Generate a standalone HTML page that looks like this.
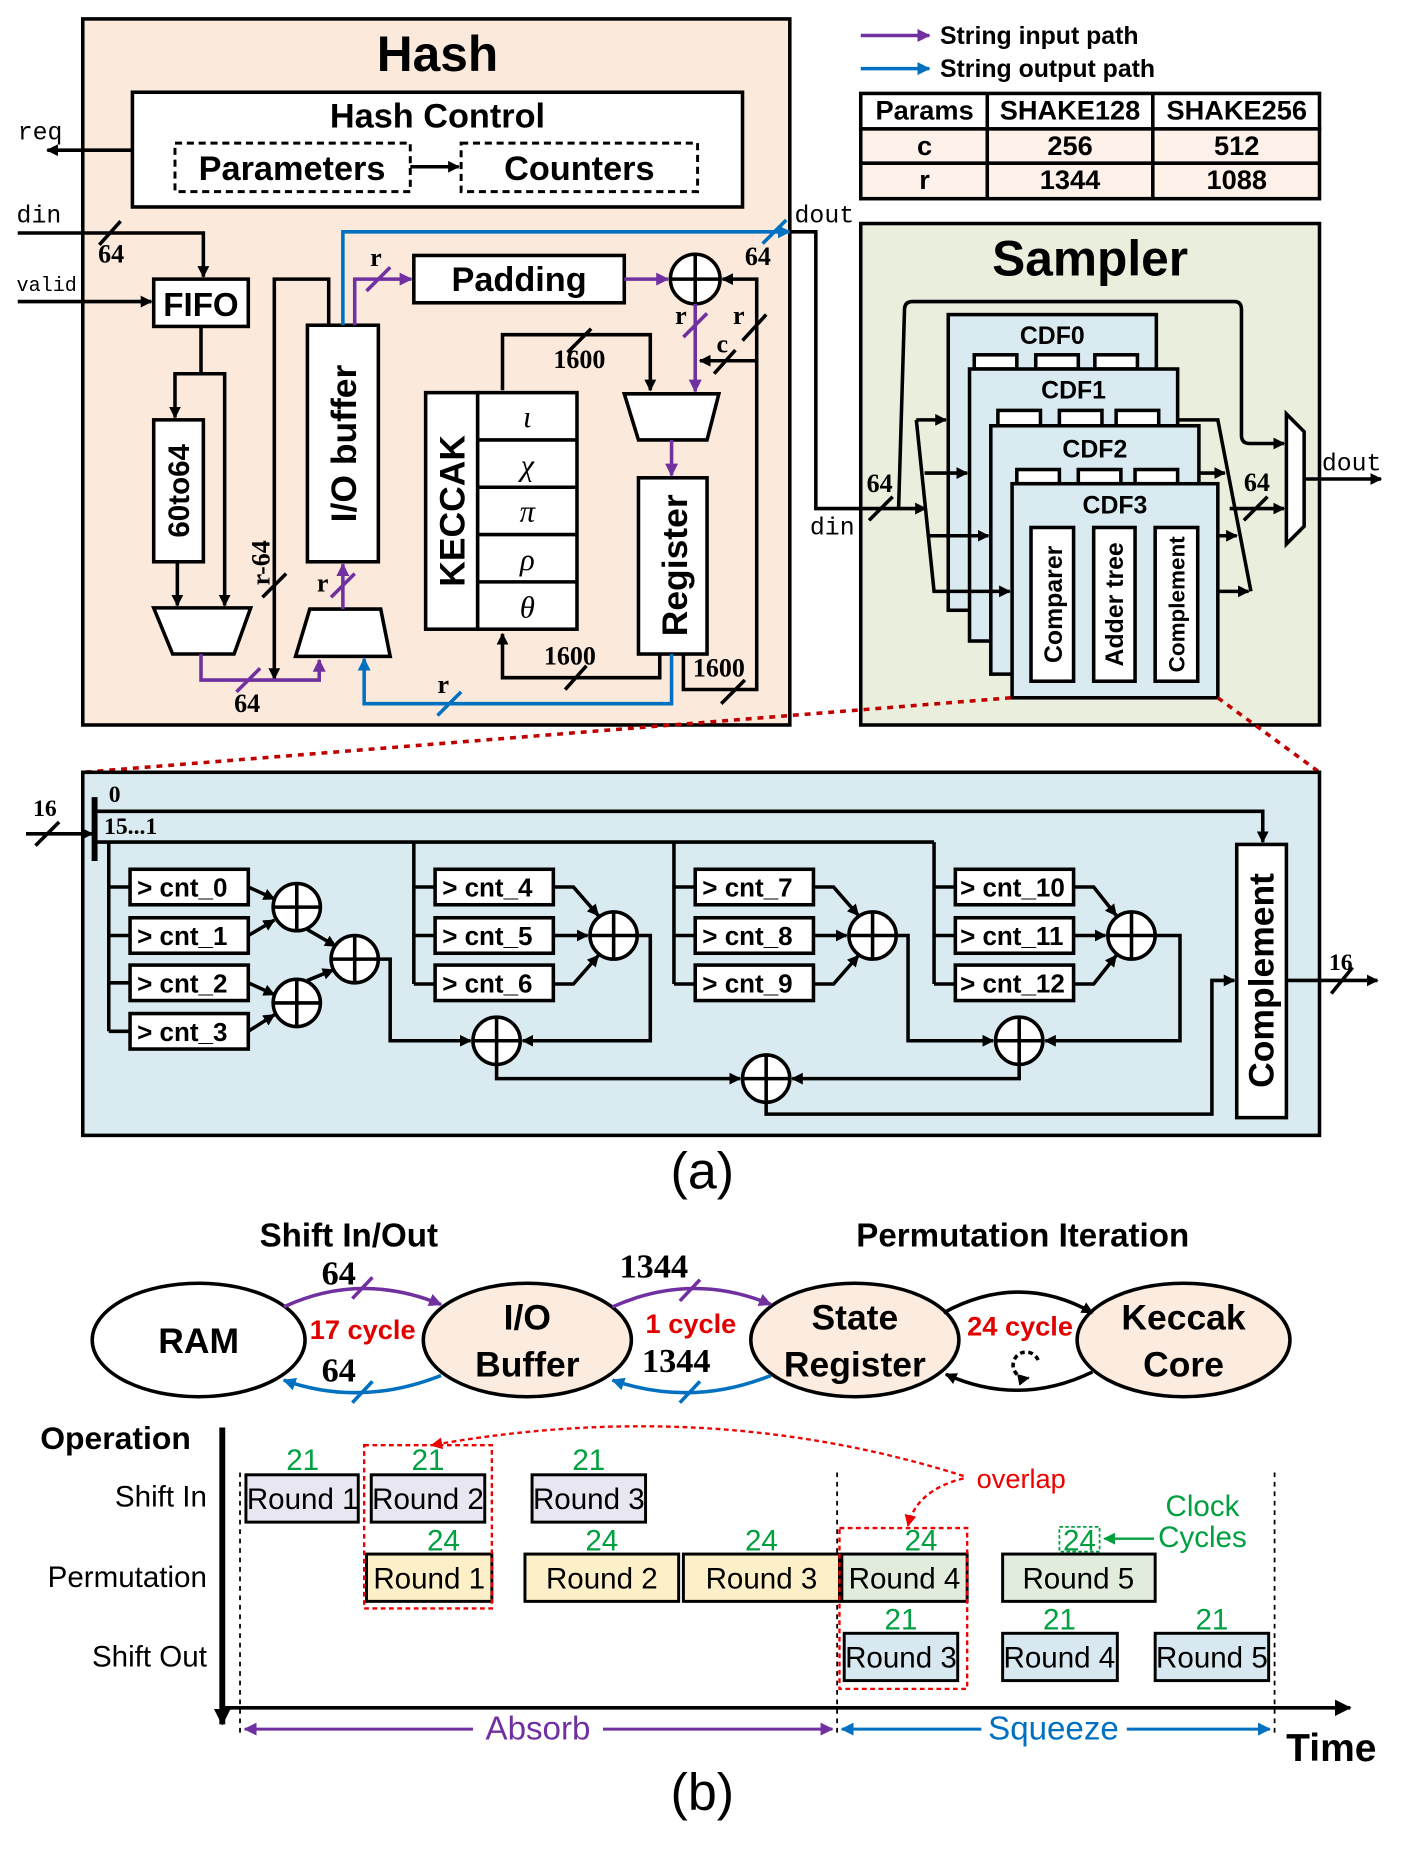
<!DOCTYPE html>
<html><head><meta charset="utf-8"><style>html,body{margin:0;padding:0;background:#fff}svg{display:block}</style></head><body>
<svg width="1407" height="1858" viewBox="0 0 1190 1571" preserveAspectRatio="none" xmlns="http://www.w3.org/2000/svg" font-family="Liberation Sans, sans-serif">
<defs>
<marker id="ak" markerWidth="10" markerHeight="10" refX="9" refY="5" orient="auto" markerUnits="userSpaceOnUse"><path d="M0,0 L10,5 L0,10z" fill="#000"/></marker>
<marker id="ap" markerWidth="11" markerHeight="11" refX="10" refY="5.5" orient="auto" markerUnits="userSpaceOnUse"><path d="M0,0 L11,5.5 L0,11z" fill="#7030a0"/></marker>
<marker id="ab" markerWidth="11" markerHeight="11" refX="10" refY="5.5" orient="auto" markerUnits="userSpaceOnUse"><path d="M0,0 L11,5.5 L0,11z" fill="#0070c0"/></marker>
<marker id="ar" markerWidth="10" markerHeight="10" refX="9" refY="5" orient="auto" markerUnits="userSpaceOnUse"><path d="M0,0 L10,5 L0,10z" fill="#e00"/></marker>
<marker id="ag" markerWidth="10" markerHeight="10" refX="9" refY="5" orient="auto" markerUnits="userSpaceOnUse"><path d="M0,0 L10,5 L0,10z" fill="#00a040"/></marker>
<marker id="akb" markerWidth="14" markerHeight="14" refX="13" refY="7" orient="auto" markerUnits="userSpaceOnUse"><path d="M0,0 L14,7 L0,14z" fill="#000"/></marker>
</defs>
<g stroke="#000" stroke-width="3" fill="none">
<rect x="70" y="16" width="598" height="597" fill="#fbe9dc"/>
<rect x="112" y="78" width="516" height="97" fill="#fff"/>
<rect x="148" y="121" width="199" height="41" stroke-dasharray="6,4" stroke-width="2.5"/>
<rect x="390" y="121" width="200" height="41" stroke-dasharray="6,4" stroke-width="2.5"/>
<line x1="347" y1="141" x2="388" y2="141" marker-end="url(#ak)"/>
<line x1="112" y1="127" x2="40" y2="127" marker-end="url(#ak)"/>
<polyline points="15,197 172,197 172,234" marker-end="url(#ak)"/>
<line x1="84" y1="207" x2="102" y2="187"/>
<line x1="15" y1="255" x2="128" y2="255" marker-end="url(#ak)"/>
<rect x="130" y="236" width="80" height="40" fill="#fff"/>
<polyline points="170,276 170,316 148,316 148,353" marker-end="url(#ak)"/>
<polyline points="170,316 190,316 190,512" marker-end="url(#ak)"/>
<rect x="130" y="355" width="42" height="120" fill="#fff"/>
<line x1="150" y1="475" x2="150" y2="512" marker-end="url(#ak)"/>
<polygon points="130,514 212,514 198,553 146,553" fill="#fff"/>
<polyline points="278,275 278,236 232,236 232,574" marker-end="url(#ak)"/>
<line x1="222" y1="505" x2="242" y2="485"/>
<rect x="260" y="275" width="60" height="200" fill="#fff"/>
<polygon points="262,515 322,515 330,555 250,555" fill="#fff"/>
<rect x="350" y="216" width="178" height="40" fill="#fff"/>
<circle cx="588" cy="236" r="21" fill="#fff"/>
<line x1="567" y1="236" x2="609" y2="236"/><line x1="588" y1="215" x2="588" y2="257"/>
<polyline points="425,330 425,283 550,283 550,330" marker-end="url(#ak)"/>
<line x1="480" y1="298" x2="500" y2="278"/>
<polygon points="528,333 608,333 598,372 540,372" fill="#fff"/>
<rect x="540" y="404" width="58" height="149" fill="#fff"/>
<rect x="360" y="332" width="44" height="200" fill="#fff"/>
<rect x="404" y="332" width="84" height="200" fill="#fff"/>
<line x1="404" y1="372" x2="488" y2="372"/><line x1="404" y1="412" x2="488" y2="412"/><line x1="404" y1="452" x2="488" y2="452"/><line x1="404" y1="492" x2="488" y2="492"/>
<polyline points="558,553 558,573 425,573 425,536" marker-end="url(#ak)"/>
<line x1="478" y1="583" x2="496" y2="563"/>
<polyline points="578,553 578,583 640,583 640,236 611,236" marker-end="url(#ak)"/>
<line x1="610" y1="595" x2="630" y2="575"/>
<line x1="628" y1="288" x2="648" y2="266"/>
<line x1="640" y1="305" x2="592" y2="305" marker-end="url(#ak)"/>
<line x1="604" y1="316" x2="622" y2="296"/>
</g>
<g stroke="#7030a0" stroke-width="3" fill="none">
<polyline points="170,553 170,575 270,575 270,558" marker-end="url(#ap)"/>
<line x1="200" y1="585" x2="220" y2="565"/>
<line x1="290" y1="515" x2="290" y2="477" marker-end="url(#ap)"/>
<line x1="280" y1="505" x2="300" y2="485"/>
<polyline points="300,275 300,236 348,236" marker-end="url(#ap)"/>
<line x1="310" y1="246" x2="330" y2="226"/>
<line x1="528" y1="236" x2="565" y2="236" marker-end="url(#ap)"/>
<line x1="588" y1="257" x2="588" y2="331" marker-end="url(#ap)"/>
<line x1="578" y1="285" x2="598" y2="265"/>
<line x1="568" y1="372" x2="568" y2="402" marker-end="url(#ap)"/>
</g>
<g stroke="#0070c0" stroke-width="3" fill="none">
<polyline points="290,275 290,196 668,196" marker-end="url(#ab)"/>
<line x1="645" y1="206" x2="665" y2="186"/>
<polyline points="568,553 568,595 308,595 308,557" marker-end="url(#ab)"/>
<line x1="370" y1="605" x2="390" y2="585"/>
</g>
<g font-family="Liberation Sans, sans-serif" font-weight="bold">
<text x="370" y="60" font-size="42" text-anchor="middle">Hash</text>
<text x="370" y="108" font-size="29" text-anchor="middle">Hash Control</text>
<text x="247" y="152" font-size="29" text-anchor="middle">Parameters</text>
<text x="490" y="152" font-size="29" text-anchor="middle">Counters</text>
<text x="170" y="267" font-size="28" text-anchor="middle">FIFO</text>
<text x="439" y="246" font-size="29" text-anchor="middle">Padding</text>
<text transform="translate(160,415) rotate(-90)" font-size="25" text-anchor="middle">60to64</text>
<text transform="translate(301,375) rotate(-90)" font-size="30" text-anchor="middle">I/O buffer</text>
<text transform="translate(393,432) rotate(-90)" font-size="30" text-anchor="middle">KECCAK</text>
<text transform="translate(581,478) rotate(-90)" font-size="30" text-anchor="middle">Register</text>
</g>
<g font-family="Liberation Serif, serif" font-size="26" font-style="italic" text-anchor="middle">
<text x="446" y="361">ι</text><text x="446" y="402">χ</text><text x="446" y="441">π</text><text x="446" y="482">ρ</text><text x="446" y="522">θ</text>
</g>
<g font-family="Liberation Serif, serif" font-size="22" font-weight="bold">
<text x="83" y="222">64</text><text x="198" y="602">64</text><text x="630" y="224">64</text>
<text x="468" y="311">1600</text><text x="460" y="562">1600</text><text x="586" y="572">1600</text>
<text x="313" y="225">r</text><text x="268" y="500">r</text><text x="571" y="274">r</text><text x="620" y="274">r</text><text x="606" y="298">c</text><text x="370" y="586">r</text>
<text transform="translate(228,495) rotate(-90)">r-64</text>
</g>
<g font-family="Liberation Mono, monospace" font-size="21">
<text x="15" y="118">req</text><text x="14" y="188">din</text><text x="14" y="246" font-size="17">valid</text>
<text x="672" y="188">dout</text><text x="685" y="452">din</text><text x="1118" y="398">dout</text>
</g>
<line x1="728" y1="30" x2="786" y2="30" stroke="#7030a0" stroke-width="3" marker-end="url(#ap)"/>
<line x1="728" y1="58" x2="786" y2="58" stroke="#0070c0" stroke-width="3" marker-end="url(#ab)"/>
<g font-weight="bold" font-size="21">
<text x="795" y="37">String input path</text><text x="795" y="65">String output path</text>
</g>
<g stroke="#000" stroke-width="3">
<rect x="728" y="79" width="388" height="30" fill="#fff"/>
<rect x="728" y="109" width="388" height="59" fill="#fdf1ea"/>
<line x1="728" y1="138" x2="1116" y2="138"/>
<line x1="835" y1="79" x2="835" y2="168"/><line x1="975" y1="79" x2="975" y2="168"/>
</g>
<g font-weight="bold" font-size="23" text-anchor="middle">
<text x="782" y="101">Params</text><text x="905" y="101">SHAKE128</text><text x="1046" y="101">SHAKE256</text>
<text x="782" y="131">c</text><text x="905" y="131">256</text><text x="1046" y="131">512</text>
<text x="782" y="160">r</text><text x="905" y="160">1344</text><text x="1046" y="160">1088</text>
</g>
<g stroke="#000" stroke-width="3" fill="none">
<rect x="728" y="189" width="388" height="424" fill="#e9efdc"/>
<polyline points="668,196 690,196 690,430 783,430" marker-end="url(#ak)"/>
<line x1="735" y1="440" x2="755" y2="420"/>
<path d="M760,430 L765,262 Q765,255 772,255 L1044,255 Q1050,255 1050,262 L1050,368 Q1050,375 1057,375 L1086,375" marker-end="url(#ak)"/>
<rect x="802" y="266" width="176" height="250" fill="#d9ebf1"/>
<rect x="824" y="300" width="36" height="12" fill="#fff"/><rect x="876" y="300" width="36" height="12" fill="#fff"/><rect x="926" y="300" width="36" height="12" fill="#fff"/>
<rect x="820" y="312" width="176" height="230" fill="#d9ebf1"/>
<rect x="844" y="347" width="36" height="13" fill="#fff"/><rect x="896" y="347" width="36" height="13" fill="#fff"/><rect x="944" y="347" width="36" height="13" fill="#fff"/>
<rect x="838" y="360" width="176" height="210" fill="#d9ebf1"/>
<rect x="860" y="397" width="36" height="12" fill="#fff"/><rect x="912" y="397" width="36" height="12" fill="#fff"/><rect x="960" y="397" width="36" height="12" fill="#fff"/>
<rect x="856" y="409" width="174" height="181" fill="#d9ebf1"/>
<rect x="872" y="446" width="36" height="130" fill="#fff"/><rect x="925" y="446" width="35" height="130" fill="#fff"/><rect x="977" y="446" width="36" height="130" fill="#fff"/>
<polyline points="775,355 790,500 854,500" marker-end="url(#ak)"/>
<line x1="775" y1="355" x2="800" y2="355" marker-end="url(#ak)"/>
<line x1="782" y1="400" x2="818" y2="400" marker-end="url(#ak)"/>
<line x1="786" y1="453" x2="836" y2="453" marker-end="url(#ak)"/>
<polyline points="996,355 1030,355 1058,500" />
<line x1="1014" y1="400" x2="1036" y2="400" marker-end="url(#ak)"/>
<line x1="1030" y1="453" x2="1046" y2="453" marker-end="url(#ak)"/>
<line x1="1030" y1="500" x2="1056" y2="500" marker-end="url(#ak)"/>
<line x1="1040" y1="430" x2="1086" y2="430" marker-end="url(#ak)"/>
<line x1="1052" y1="440" x2="1072" y2="420"/>
<polygon points="1088,350 1103,365 1103,445 1088,460" fill="#fff"/>
<line x1="1103" y1="405" x2="1168" y2="405" marker-end="url(#ak)"/>
</g>
<g font-weight="bold">
<text x="922" y="233" font-size="42" text-anchor="middle">Sampler</text>
<text x="890" y="291" font-size="21" text-anchor="middle">CDF0</text>
<text x="908" y="337" font-size="21" text-anchor="middle">CDF1</text>
<text x="926" y="387" font-size="21" text-anchor="middle">CDF2</text>
<text x="943" y="434" font-size="21" text-anchor="middle">CDF3</text>
<g font-size="21" text-anchor="middle">
<text transform="translate(898,511) rotate(-90)">Comparer</text>
<text transform="translate(950,511) rotate(-90)">Adder tree</text>
<text transform="translate(1002,511) rotate(-90)" font-size="19">Complement</text>
</g>
</g>
<g font-family="Liberation Serif, serif" font-size="22" font-weight="bold"><text x="733" y="416">64</text><text x="1052" y="415">64</text></g>
<g stroke="#c00000" stroke-width="3" stroke-dasharray="5,5"><line x1="855" y1="590" x2="70" y2="653"/><line x1="1030" y1="590" x2="1116" y2="653"/></g>
<g stroke="#000" stroke-width="3" fill="none">
<rect x="70" y="653" width="1046" height="307" fill="#d9ebf1"/>
<line x1="22" y1="705" x2="78" y2="705" marker-end="url(#ak)"/>
<line x1="30" y1="715" x2="50" y2="695"/>
<line x1="80" y1="674" x2="80" y2="728" stroke-width="5"/>
<polyline points="80,686 1068,686 1068,712" marker-end="url(#ak)"/>
<polyline points="80,712 790,712"/>
<line x1="92" y1="712" x2="92" y2="872"/>
<line x1="350" y1="712" x2="350" y2="832"/>
<line x1="570" y1="712" x2="570" y2="832"/>
<line x1="790" y1="712" x2="790" y2="832"/>
<line x1="92" y1="750" x2="110" y2="750"/><line x1="92" y1="791" x2="110" y2="791"/><line x1="92" y1="831" x2="110" y2="831"/><line x1="92" y1="872" x2="110" y2="872"/>
<line x1="350" y1="750" x2="368" y2="750"/><line x1="350" y1="791" x2="368" y2="791"/><line x1="350" y1="832" x2="368" y2="832"/>
<line x1="570" y1="750" x2="588" y2="750"/><line x1="570" y1="791" x2="588" y2="791"/><line x1="570" y1="832" x2="588" y2="832"/>
<line x1="790" y1="750" x2="808" y2="750"/><line x1="790" y1="791" x2="808" y2="791"/><line x1="790" y1="832" x2="808" y2="832"/>
<rect x="110" y="735" width="100" height="30" fill="#fff"/><rect x="110" y="776" width="100" height="30" fill="#fff"/><rect x="110" y="816" width="100" height="30" fill="#fff"/><rect x="110" y="857" width="100" height="30" fill="#fff"/>
<rect x="368" y="735" width="100" height="30" fill="#fff"/><rect x="368" y="776" width="100" height="30" fill="#fff"/><rect x="368" y="816" width="100" height="30" fill="#fff"/>
<rect x="588" y="735" width="100" height="30" fill="#fff"/><rect x="588" y="776" width="100" height="30" fill="#fff"/><rect x="588" y="816" width="100" height="30" fill="#fff"/>
<rect x="808" y="735" width="100" height="30" fill="#fff"/><rect x="808" y="776" width="100" height="30" fill="#fff"/><rect x="808" y="816" width="100" height="30" fill="#fff"/>
<line x1="210" y1="750" x2="232" y2="760" marker-end="url(#ak)"/><line x1="210" y1="791" x2="232" y2="778" marker-end="url(#ak)"/>
<line x1="210" y1="831" x2="232" y2="841" marker-end="url(#ak)"/><line x1="210" y1="872" x2="232" y2="858" marker-end="url(#ak)"/>
<line x1="260" y1="786" x2="284" y2="800" marker-end="url(#ak)"/><line x1="260" y1="829" x2="282" y2="820" marker-end="url(#ak)"/>
<polyline points="468,750 485,750 506,774" marker-end="url(#ak)"/><line x1="468" y1="791" x2="497" y2="791" marker-end="url(#ak)"/><polyline points="468,832 485,832 506,808" marker-end="url(#ak)"/>
<polyline points="688,750 705,750 726,774" marker-end="url(#ak)"/><line x1="688" y1="791" x2="716" y2="791" marker-end="url(#ak)"/><polyline points="688,832 705,832 726,808" marker-end="url(#ak)"/>
<polyline points="908,750 925,750 944,774" marker-end="url(#ak)"/><line x1="908" y1="791" x2="935" y2="791" marker-end="url(#ak)"/><polyline points="908,832 925,832 944,808" marker-end="url(#ak)"/>
<polyline points="320,811 330,811 330,880 398,880" marker-end="url(#ak)"/>
<polyline points="539,791 550,791 550,880 442,880" marker-end="url(#ak)"/>
<polyline points="758,791 768,791 768,880 840,880" marker-end="url(#ak)"/>
<polyline points="977,791 998,791 998,880 884,880" marker-end="url(#ak)"/>
<polyline points="420,900 420,912 626,912" marker-end="url(#ak)"/>
<polyline points="862,900 862,912 670,912" marker-end="url(#ak)"/>
<polyline points="648,932 648,942 1025,942 1025,829 1044,829" marker-end="url(#ak)"/>
<rect x="1046" y="714" width="42" height="231" fill="#fff"/>
<line x1="1088" y1="829" x2="1165" y2="829" marker-end="url(#ak)"/>
<line x1="1126" y1="840" x2="1144" y2="818"/>
</g>
<g stroke="#000" stroke-width="3" fill="#fff">
<circle cx="251" cy="767" r="20"/><circle cx="251" cy="848" r="20"/><circle cx="300" cy="811" r="20"/>
<circle cx="519" cy="791" r="20"/><circle cx="738" cy="791" r="20"/><circle cx="957" cy="791" r="20"/>
<circle cx="420" cy="880" r="20"/><circle cx="862" cy="880" r="20"/><circle cx="648" cy="912" r="20"/>
</g>
<g stroke="#000" stroke-width="3">
<path d="M231,767h40M251,747v40M231,848h40M251,828v40M280,811h40M300,791v40M499,791h40M519,771v40M718,791h40M738,771v40M937,791h40M957,771v40M400,880h40M420,860v40M842,880h40M862,860v40M628,912h40M648,892v40"/>
</g>
<g font-size="22" font-weight="bold">
<text x="116" y="758">&gt; cnt_0</text><text x="116" y="799">&gt; cnt_1</text><text x="116" y="839">&gt; cnt_2</text><text x="116" y="880">&gt; cnt_3</text>
<text x="374" y="758">&gt; cnt_4</text><text x="374" y="799">&gt; cnt_5</text><text x="374" y="839">&gt; cnt_6</text>
<text x="594" y="758">&gt; cnt_7</text><text x="594" y="799">&gt; cnt_8</text><text x="594" y="839">&gt; cnt_9</text>
<text x="812" y="758">&gt; cnt_10</text><text x="812" y="799">&gt; cnt_11</text><text x="812" y="839">&gt; cnt_12</text>
<text transform="translate(1077,829) rotate(-90)" font-size="30" text-anchor="middle">Complement</text>
</g>
<g font-family="Liberation Serif, serif" font-size="20" font-weight="bold"><text x="28" y="690">16</text><text x="92" y="678">0</text><text x="88" y="705">15...1</text><text x="1124" y="820">16</text></g>
<text x="594" y="1005" font-size="44" text-anchor="middle">(a)</text>
<g font-weight="bold" font-size="28">
<text x="295" y="1054" text-anchor="middle">Shift In/Out</text>
<text x="865" y="1054" text-anchor="middle">Permutation Iteration</text>
</g>
<g stroke="#000" stroke-width="3">
<ellipse cx="168" cy="1133" rx="90" ry="48" fill="#fff"/>
<ellipse cx="446" cy="1133" rx="88" ry="48" fill="#fcece0"/>
<ellipse cx="723" cy="1133" rx="88" ry="48" fill="#fcece0"/>
<ellipse cx="1001" cy="1133" rx="90" ry="48" fill="#fcece0"/>
</g>
<g font-weight="bold" font-size="30" text-anchor="middle">
<text x="168" y="1144">RAM</text><text x="446" y="1124">I/O</text><text x="446" y="1164">Buffer</text>
<text x="723" y="1124">State</text><text x="723" y="1164">Register</text>
<text x="1001" y="1124">Keccak</text><text x="1001" y="1164">Core</text>
</g>
<g fill="none" stroke-width="3">
<path d="M240,1105 Q305,1075 373,1103" stroke="#7030a0" marker-end="url(#ap)"/>
<path d="M373,1163 Q305,1190 240,1167" stroke="#0070c0" marker-end="url(#ab)"/>
<path d="M518,1105 Q585,1075 652,1103" stroke="#7030a0" marker-end="url(#ap)"/>
<path d="M652,1163 Q585,1190 518,1167" stroke="#0070c0" marker-end="url(#ab)"/>
<path d="M798,1110 Q862,1075 924,1110" stroke="#000" marker-end="url(#ak)"/>
<path d="M924,1160 Q862,1190 800,1162" stroke="#000" marker-end="url(#ak)"/>
<path d="M878,1150 A11,11 0 1 0 870,1165" stroke="#000" stroke-dasharray="4,3" marker-end="url(#ak)"/>
</g>
<g stroke-width="3"><line x1="298" y1="1098" x2="315" y2="1080" stroke="#7030a0"/><line x1="298" y1="1186" x2="315" y2="1168" stroke="#0070c0"/><line x1="575" y1="1100" x2="592" y2="1082" stroke="#7030a0"/><line x1="575" y1="1186" x2="592" y2="1168" stroke="#0070c0"/></g>
<g font-family="Liberation Serif, serif" font-weight="bold" font-size="29">
<text x="272" y="1086">64</text><text x="272" y="1168">64</text><text x="524" y="1080">1344</text><text x="543" y="1160">1344</text>
</g>
<g font-weight="bold" font-size="23" fill="#e00000">
<text x="262" y="1132">17 cycle</text><text x="546" y="1127">1 cycle</text><text x="818" y="1129">24 cycle</text>
</g>
<text x="34" y="1225" font-weight="bold" font-size="27">Operation</text>
<g font-size="25" text-anchor="end"><text x="175" y="1274">Shift In</text><text x="175" y="1342">Permutation</text><text x="175" y="1409">Shift Out</text></g>
<line x1="188" y1="1207" x2="188" y2="1458" stroke="#000" stroke-width="5" marker-end="url(#akb)"/>
<line x1="188" y1="1444" x2="1142" y2="1444" stroke="#000" stroke-width="3" marker-end="url(#akb)"/>
<g stroke="#000" stroke-width="1.5" stroke-dasharray="4,4"><line x1="203" y1="1245" x2="203" y2="1466"/><line x1="708" y1="1245" x2="708" y2="1466"/><line x1="1078" y1="1245" x2="1078" y2="1466"/></g>
<g stroke="#000" stroke-width="2.5">
<rect x="208" y="1247" width="95" height="40" fill="#e8e6f0"/><rect x="314" y="1247" width="96" height="40" fill="#e8e6f0"/><rect x="450" y="1247" width="96" height="40" fill="#e8e6f0"/>
<rect x="310" y="1314" width="106" height="40" fill="#fdf0c8"/><rect x="444" y="1314" width="130" height="40" fill="#fdf0c8"/><rect x="578" y="1314" width="132" height="40" fill="#fdf0c8"/>
<rect x="712" y="1314" width="106" height="40" fill="#e2ecdc"/><rect x="848" y="1314" width="129" height="40" fill="#e2ecdc"/>
<rect x="714" y="1381" width="96" height="40" fill="#d8e8f0"/><rect x="848" y="1381" width="97" height="40" fill="#d8e8f0"/><rect x="977" y="1381" width="96" height="40" fill="#d8e8f0"/>
</g>
<g font-size="25" text-anchor="middle">
<text x="256" y="1276">Round 1</text><text x="362" y="1276">Round 2</text><text x="498" y="1276">Round 3</text>
<text x="363" y="1343">Round 1</text><text x="509" y="1343">Round 2</text><text x="644" y="1343">Round 3</text><text x="765" y="1343">Round 4</text><text x="912" y="1343">Round 5</text>
<text x="762" y="1410">Round 3</text><text x="896" y="1410">Round 4</text><text x="1025" y="1410">Round 5</text>
</g>
<g font-size="25" fill="#00a040" text-anchor="middle">
<text x="256" y="1243">21</text><text x="362" y="1243">21</text><text x="498" y="1243">21</text>
<text x="375" y="1311">24</text><text x="509" y="1311">24</text><text x="644" y="1311">24</text><text x="779" y="1311">24</text><text x="913" y="1311">24</text>
<text x="762" y="1378">21</text><text x="896" y="1378">21</text><text x="1025" y="1378">21</text>
<text x="1017" y="1282">Clock</text><text x="1017" y="1308">Cycles</text>
</g>
<rect x="896" y="1291" width="34" height="21" fill="none" stroke="#00a040" stroke-width="1.5" stroke-dasharray="3,2"/>
<line x1="976" y1="1301" x2="934" y2="1301" stroke="#00a040" stroke-width="2" marker-end="url(#ag)"/>
<g fill="none" stroke="#e00" stroke-width="2" stroke-dasharray="4,3">
<rect x="308" y="1222" width="108" height="138"/><rect x="710" y="1292" width="108" height="136"/>
<path d="M815,1248 Q600,1180 365,1222" marker-end="url(#ar)"/>
<path d="M815,1250 Q775,1260 768,1290" marker-end="url(#ar)"/>
</g>
<text x="826" y="1258" font-size="23" fill="#e00">overlap</text>
<g stroke-width="2.5">
<line x1="400" y1="1462" x2="207" y2="1462" stroke="#7030a0" marker-end="url(#ap)"/><line x1="510" y1="1462" x2="704" y2="1462" stroke="#7030a0" marker-end="url(#ap)"/>
<line x1="830" y1="1462" x2="712" y2="1462" stroke="#0070c0" marker-end="url(#ab)"/><line x1="953" y1="1462" x2="1074" y2="1462" stroke="#0070c0" marker-end="url(#ab)"/>
</g>
<text x="455" y="1471" font-size="28" fill="#7030a0" text-anchor="middle">Absorb</text>
<text x="891" y="1471" font-size="28" fill="#0070c0" text-anchor="middle">Squeeze</text>
<text x="1126" y="1489" font-weight="bold" font-size="33" text-anchor="middle">Time</text>
<text x="594" y="1530" font-size="44" text-anchor="middle">(b)</text>
</svg>
</body></html>
